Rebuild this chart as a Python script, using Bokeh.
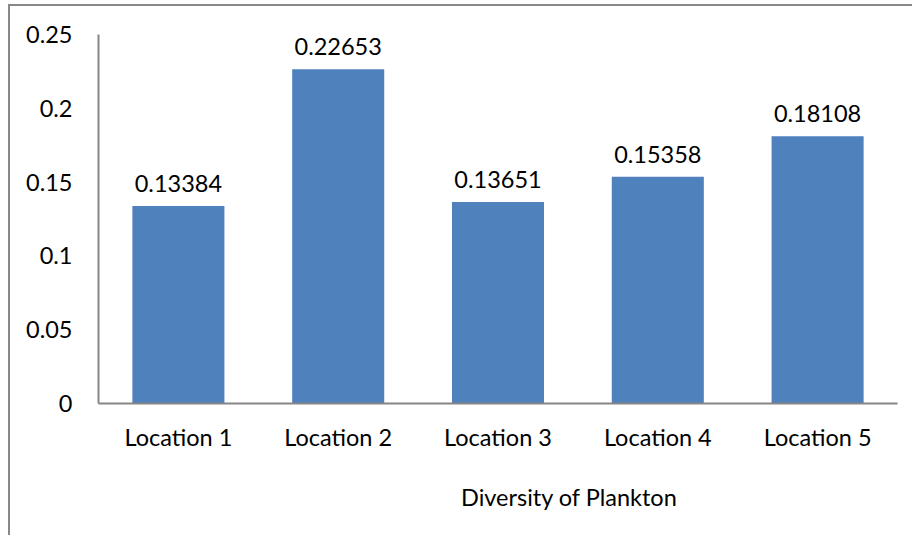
from bokeh.plotting import figure
from bokeh.layouts import column
from bokeh.models import ColumnDataSource, LabelSet, Legend, LegendItem, Range1d, FixedTicker, NumeralTickFormatter
from bokeh.core.properties import value
from bokeh.embed import file_html
from bokeh.resources import INLINE

categories = ["Location 1", "Location 2", "Location 3", "Location 4", "Location 5"]
values = [0.13384, 0.22653, 0.13651, 0.15358, 0.18108]
value_labels = ["0.13384", "0.22653", "0.13651", "0.15358", "0.18108"]
y_ticks = [0, 0.05, 0.1, 0.15, 0.2, 0.25]
series_name = "Diversity of Plankton"

FONT = "Lato"
FS = "23.5px"
BAR = "#4F81BD"
AX = "#868686"
FRAME = "2px solid #888888"

src = ColumnDataSource(dict(cat=categories, val=values, lab=value_labels))

# main chart
p = figure(x_range=categories, y_range=Range1d(0, 0.25),
           width=904, height=447, output_backend="svg", toolbar_location=None,
           min_border_left=88, min_border_right=17, min_border_top=28, min_border_bottom=45,
           margin=(4, 0, 0, 8))
p.styles = {"border-top": FRAME, "border-left": FRAME}
p.outline_line_color = None
p.xgrid.grid_line_color = None
p.ygrid.grid_line_color = None

p.vbar(x="cat", top="val", width=0.576, fill_color=BAR, line_color=None, source=src)

labels = LabelSet(x="cat", y="val", text="lab", source=src, text_align="center",
                  text_baseline="bottom", y_offset=14, text_font=value(FONT), text_font_size=value(FS),
                  text_color="#000000")
p.add_layout(labels)

p.yaxis.ticker = FixedTicker(ticks=y_ticks)
p.yaxis.formatter = NumeralTickFormatter(format="0.[00]")
for ax in (p.xaxis, p.yaxis):
    ax.axis_line_color = AX
    ax.axis_line_width = 2
    ax.major_tick_line_color = None
    ax.minor_tick_line_color = None
    ax.major_label_text_font = FONT
    ax.major_label_text_font_size = FS
    ax.major_label_text_color = "#000000"
p.yaxis.major_label_standoff = 20
p.xaxis.major_label_standoff = 13

# legend strip below the chart (its own frame, so the legend is not clipped)
lf = figure(width=904, height=84, output_backend="svg", toolbar_location=None,
            x_range=Range1d(0, 1), y_range=Range1d(0, 1),
            x_axis_location=None, y_axis_location=None,
            min_border_left=0, min_border_right=0, min_border_top=0, min_border_bottom=0,
            margin=(0, 0, 0, 8))
lf.styles = {"border-left": FRAME}
lf.outline_line_color = None
lf.xgrid.grid_line_color = None
lf.ygrid.grid_line_color = None
lr = lf.vbar(x=[], top=[], width=0.5, fill_color=BAR, line_color=None)

legend = Legend(items=[LegendItem(label=series_name, renderers=[lr])],
                location=(341, 24), orientation="horizontal",
                glyph_width=14, glyph_height=14, label_standoff=8,
                padding=0, margin=0, border_line_color=None, background_fill_alpha=0,
                label_text_font=FONT, label_text_font_size=FS, label_text_color="#000000")
lf.add_layout(legend, "center")

layout = column(p, lf, spacing=0)

open("out.html", "w").write(file_html(layout, INLINE))
